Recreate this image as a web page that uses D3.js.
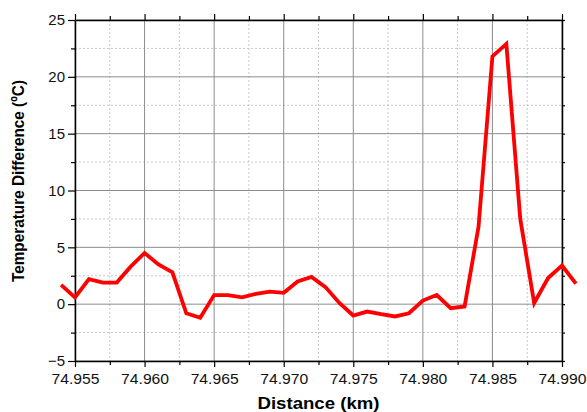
<!DOCTYPE html>
<html>
<head>
<meta charset="utf-8">
<script src="https://cdn.jsdelivr.net/npm/d3@7"></script>
<style>
  body { margin: 0; background: #fff; }
  svg { display: block; font-family: "Liberation Sans", Arial, sans-serif; }
</style>
</head>
<body>
<svg width="587" height="412"></svg>
<script>
// data
var distance = [74.954, 74.955, 74.956, 74.957, 74.958, 74.959, 74.960, 74.961, 74.962, 74.963,
                74.964, 74.965, 74.966, 74.967, 74.968, 74.969, 74.970, 74.971, 74.972, 74.973,
                74.974, 74.975, 74.976, 74.977, 74.978, 74.979, 74.980, 74.981, 74.982, 74.983,
                74.984, 74.985, 74.986, 74.987, 74.988, 74.989, 74.990, 74.991];
var tempDiff = [1.7, 0.6, 2.2, 1.9, 1.9, 3.3, 4.5, 3.5, 2.8, -0.8,
                -1.2, 0.8, 0.8, 0.6, 0.9, 1.1, 1.0, 2.0, 2.4, 1.5,
                0.1, -1.0, -0.65, -0.88, -1.08, -0.8, 0.32, 0.8, -0.35, -0.2,
                6.8, 21.8, 22.9, 7.5, 0.1, 2.3, 3.4, 1.8];

var xMajor = [74.955, 74.960, 74.965, 74.970, 74.975, 74.980, 74.985, 74.990];
var xMinor = [74.9575, 74.9625, 74.9675, 74.9725, 74.9775, 74.9825, 74.9875];
var yMajor = [-5, 0, 5, 10, 15, 20, 25];
var yMinor = [-2.5, 2.5, 7.5, 12.5, 17.5, 22.5];

var svg = d3.select("svg");
var plotL = 75, plotR = 562, plotT = 20, plotB = 361;

var x = d3.scaleLinear().domain([74.955, 74.990]).range([plotL, plotR]);
var y = d3.scaleLinear().domain([-5, 25]).range([plotB, plotT]);

// grid
var grid = svg.append("g");
grid.selectAll(".vminor").data(xMinor).enter().append("line")
    .attr("x1", d => x(d)).attr("x2", d => x(d))
    .attr("y1", plotT).attr("y2", plotB)
    .style("stroke", "#c8c8c8").style("stroke-dasharray", "2,2");
grid.selectAll(".hminor").data(yMinor).enter().append("line")
    .attr("x1", plotL).attr("x2", plotR)
    .attr("y1", d => y(d)).attr("y2", d => y(d))
    .style("stroke", "#c8c8c8").style("stroke-dasharray", "2,2");
grid.selectAll(".vmajor").data(xMajor).enter().append("line")
    .attr("x1", d => x(d)).attr("x2", d => x(d))
    .attr("y1", plotT).attr("y2", plotB)
    .style("stroke", "#8c8c8c");
grid.selectAll(".hmajor").data(yMajor).enter().append("line")
    .attr("x1", plotL).attr("x2", plotR)
    .attr("y1", d => y(d)).attr("y2", d => y(d))
    .style("stroke", "#8c8c8c");

// axes
function styleAxis(g) {
    g.select(".domain").style("stroke", "#000").style("stroke-width", 1.5);
    g.selectAll(".tick line").style("stroke", "#000").style("stroke-width", 1.2);
    g.selectAll("text").style("font-size", "15px").style("fill", "#111")
        .style("font-family", '"Liberation Sans", Arial, sans-serif');
}
function minorTicks(g) {
    g.select(".domain").remove();
    g.selectAll("line").style("stroke", "#000").style("stroke-width", 1.2);
}

var xAxis = svg.append("g").attr("transform", "translate(0," + plotB + ")")
    .call(d3.axisBottom(x).tickValues(xMajor).tickSize(6).tickSizeOuter(0).tickPadding(6)
        .tickFormat(d3.format(".3f")));
styleAxis(xAxis);
xAxis.selectAll("text").attr("textLength", 48).attr("lengthAdjust", "spacingAndGlyphs");
svg.append("g").attr("transform", "translate(0," + plotB + ")")
    .call(d3.axisBottom(x).tickValues(xMinor).tickSize(4).tickFormat(""))
    .call(minorTicks);

var xTop = svg.append("g").attr("transform", "translate(0," + plotT + ")")
    .call(d3.axisTop(x).tickValues(xMajor).tickSize(6).tickSizeOuter(0).tickFormat(""));
styleAxis(xTop);
svg.append("g").attr("transform", "translate(0," + plotT + ")")
    .call(d3.axisTop(x).tickValues(xMinor).tickSize(4).tickFormat(""))
    .call(minorTicks);

var yAxis = svg.append("g").attr("transform", "translate(" + plotL + ",0)")
    .call(d3.axisLeft(y).tickValues(yMajor).tickSize(7).tickSizeOuter(0).tickPadding(3));
styleAxis(yAxis);
svg.append("g").attr("transform", "translate(" + plotL + ",0)")
    .call(d3.axisLeft(y).tickValues(yMinor).tickSize(4).tickFormat(""))
    .call(minorTicks);

var yRight = svg.append("g").attr("transform", "translate(" + plotR + ",0)")
    .call(d3.axisRight(y).tickValues(yMajor.concat(yMinor)).tickSize(3).tickSizeOuter(0).tickFormat(""));
styleAxis(yRight);

// line
var pts = distance.map((d, i) => [d, tempDiff[i]]);
svg.append("path")
    .datum(pts)
    .attr("fill", "none")
    .attr("stroke", "#ff0000")
    .attr("stroke-width", 3.8)
    .attr("stroke-linejoin", "miter")
    .attr("d", d3.line().x(d => x(d[0])).y(d => y(d[1])));

// titles
svg.append("text")
    .attr("x", (plotL + plotR) / 2)
    .attr("y", 409)
    .attr("text-anchor", "middle")
    .attr("textLength", 122)
    .attr("lengthAdjust", "spacingAndGlyphs")
    .style("font-size", "17px")
    .style("font-weight", "bold")
    .text("Distance (km)");

svg.append("text")
    .attr("transform", "translate(24," + 181 + ") rotate(-90)")
    .attr("text-anchor", "middle")
    .attr("textLength", 202)
    .attr("lengthAdjust", "spacingAndGlyphs")
    .style("font-size", "17px")
    .style("font-weight", "bold")
    .text("Temperature Difference (ºC)");
</script>
</body>
</html>
